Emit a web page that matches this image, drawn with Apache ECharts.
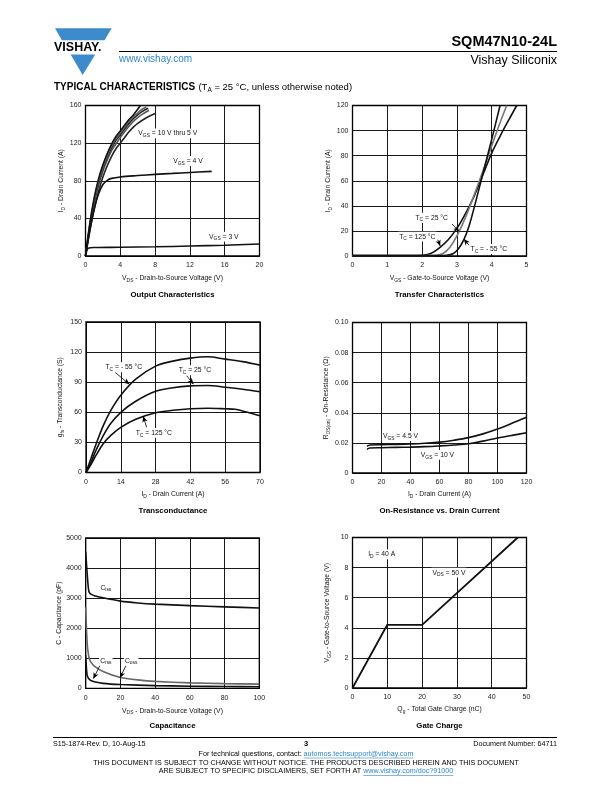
<!DOCTYPE html>
<html><head><meta charset="utf-8">
<script src="https://cdn.jsdelivr.net/npm/echarts@6/dist/echarts.min.js"></script>
<style>html,body{margin:0;padding:0;background:#fff}#c{width:612px;height:792px}</style>
</head><body><div id="c"></div>
<script>
// ---------- DATA ----------
// Output characteristics: [VDS (V), ID (A)]
const outV10 = [[0,0],[0.5,35],[1,62],[1.5,82],[2,97],[2.5,109],[3,119],[3.5,127],[4,133],[4.5,139],[5,145],[5.5,150],[6,156],[6.3,160]];
const outV8  = [[0,0],[0.5,33],[1,60],[1.5,80],[2,95],[2.5,107],[3,117],[3.5,125],[4,131],[4.5,137],[5,143],[5.5,148],[6,152],[6.5,156],[7,158.5]];
const outV7  = [[0,0],[0.5,32],[1,58],[1.5,78],[2,93],[2.5,105],[3,115],[3.5,123],[4,129],[4.5,135],[5,141],[5.5,146],[6,150],[6.5,153.5],[7.2,157]];
const outV6  = [[0,0],[0.5,30],[1,55],[1.5,75],[2,90],[2.5,102],[3,112],[3.5,119],[4,126],[4.5,132],[5,138],[5.5,143],[6,147],[6.5,150.5],[7.3,155]];
const outV5  = [[0,0],[0.5,27],[1,50],[1.5,69],[2,84],[2.5,96],[3,106],[3.5,114],[4,120],[4.5,126],[5,132],[5.5,137],[6,141],[7,147],[8,151.5]];
const outV4  = [[0,0],[0.5,27],[1,50],[1.5,66],[2,76],[2.5,80.5],[3,82.5],[4,84],[6,85.5],[8,86.8],[10,87.8],[12,88.8],[14.5,90]];
const outV3  = [[0,0],[0.1,4],[0.2,7],[0.4,8.5],[1,9],[4,9.3],[8,9.8],[12,10.6],[16,11.5],[20,12.7]];
// Transfer characteristics: [VGS (V), ID (A)]
const trT125 = [[0,0.4],[1,0.4],[1.8,0.4],[2,0.6],[2.25,2],[2.5,6.5],[2.75,13],[3,22],[3.25,34],[3.5,48],[3.75,65],[4,82],[4.25,96],[4.5,109],[4.72,120]];
const trT25  = [[0,0.4],[1,0.4],[2.2,0.4],[2.4,0.6],[2.6,2],[2.8,7],[3,16],[3.25,31],[3.5,49],[3.75,68],[4,88],[4.25,107],[4.43,120]];
const trTm55 = [[0,0.4],[1,0.4],[2.5,0.4],[2.7,0.6],[2.9,2],[3.05,6],[3.2,13],[3.35,24],[3.5,39],[3.75,66],[4,93],[4.24,120]];
// Transconductance: [ID (A), gfs (S)]
const gfsTm55 = [[0,0],[2,14],[4,28],[7,47],[10,62],[14,77],[20,93],[28,106],[35,111],[42,114],[49,115.3],[56,113],[63,110.5],[70,107]];
const gfsT25  = [[0,0],[2,10],[4,22],[7,37],[10,49],[14,60],[20,71],[28,81],[35,84.5],[42,86.3],[49,86.7],[56,85],[63,83],[70,80.5]];
const gfsT125 = [[0,0],[2,8],[4,17],[7,29],[10,37],[14,45],[20,53],[28,59.5],[35,62],[42,63.5],[49,64],[56,63.5],[60,63],[65,60],[70,56.5]];
// On-resistance: [ID (A), RDS(on) (ohm)]
const rdsV45 = [[10,0.0178],[12,0.0186],[20,0.0188],[30,0.019],[40,0.0193],[50,0.0198],[60,0.0205],[70,0.0218],[80,0.0235],[90,0.026],[100,0.0292],[110,0.033],[120,0.037]];
const rdsV10 = [[10,0.0158],[12,0.0166],[20,0.0168],[30,0.017],[40,0.0172],[50,0.0175],[60,0.018],[70,0.0186],[80,0.0194],[90,0.0212],[100,0.0232],[110,0.025],[120,0.0267]];
// Capacitance: [VDS (V), C (pF)]
const capCiss = [[0,4550],[0.5,4100],[1,3700],[1.5,3350],[2,3200],[3,3130],[5,3080],[10,3010],[20,2900],[30,2840],[40,2800],[60,2750],[80,2710],[100,2670]];
const capCoss = [[0,2700],[0.5,1900],[1,1400],[1.5,1150],[2,1000],[3,870],[5,740],[10,560],[20,360],[30,280],[40,230],[60,180],[80,155],[100,140]];
const capCrss = [[0,1100],[0.5,600],[1,400],[2,300],[3,260],[5,220],[10,165],[20,125],[40,90],[60,70],[80,60],[100,50]];
// Gate charge: [Qg (nC), VGS (V)]
const gateQ = [[0,0],[10,4.2],[20,4.2],[47.5,10]];

// Axis ranges: [min, max, interval]
const axOutX = [0,20,4],   axOutY = [0,160,40];
const axTrX  = [0,5,1],    axTrY  = [0,120,20];
const axGfsX = [0,70,14],  axGfsY = [0,150,30];
const axRdsX = [0,120,20], axRdsY = [0,0.1,0.02];
const axCapX = [0,100,20], axCapY = [0,5000,1000];
const axGqX  = [0,50,10],  axGqY  = [0,10,2];

// ---------- STYLE / LAYOUT ----------
const F = '"Liberation Sans", Arial, Helvetica, sans-serif';
function rich(fs){
  return {
    n:{fontSize:fs,fontFamily:F,color:'#111',lineHeight:fs+3},
    s:{fontSize:fs*0.72,fontFamily:F,color:'#111',lineHeight:fs*0.6,verticalAlign:'bottom'}
  };
}
function sub(a,s,b){ return '{n|'+a+'}{s|'+s+'}{n|'+b+'}'; }

const grids = [
  {left:85.5, top:105.5, width:174, height:150.5},
  {left:352.5,top:105.5, width:174, height:150.5},
  {left:86,   top:322,   width:174, height:150.5},
  {left:352.5,top:322.5, width:174, height:150.5},
  {left:85.7, top:538,   width:173.6,height:150.3},
  {left:352.5,top:537.5, width:174, height:150.5}
].map(g=>Object.assign({show:true,borderColor:'#000',borderWidth:1.3,backgroundColor:'transparent'},g));

function axis(gi, r, name, gap, fmt, isY){
  return {
    gridIndex:gi, type:'value', min:r[0], max:r[1], interval:r[2],
    name:name, nameLocation:'middle', nameGap:gap,
    nameTextStyle:{rich:rich(6.8),fontSize:6.8,fontFamily:F,color:'#111'},
    axisLine:{show:false}, axisTick:{show:false},
    axisLabel:{fontSize:7,fontFamily:F,color:'#222',margin:isY?4:6,formatter:fmt||(v=>String(Math.round(v*1000)/1000))},
    splitLine:{show:true,lineStyle:{color:'#000',width:0.9}}
  };
}
const xAxes = [
  axis(0,axOutX,sub('V','DS',' - Drain-to-Source Voltage (V)'),17),
  axis(1,axTrX, sub('V','GS',' - Gate-to-Source Voltage (V)'),17),
  axis(2,axGfsX,sub('I','D',' - Drain Current (A)'),16.5),
  axis(3,axRdsX,sub('I','D',' - Drain Current (A)'),16),
  axis(4,axCapX,sub('V','DS',' - Drain-to-Source Voltage (V)'),17.5),
  axis(5,axGqX, sub('Q','g',' - Total Gate Charge (nC)'),16)
];
const yAxes = [
  axis(0,axOutY,sub('I','D',' - Drain Current (A)'),18.5,null,true),
  axis(1,axTrY, sub('I','D',' - Drain Current (A)'),19.5,null,true),
  axis(2,axGfsY,sub('g','fs',' - Transconductance (S)'),20.5,null,true),
  axis(3,axRdsY,sub('R','DS(on)',' - On-Resistance (Ω)'),21.5,v=>v===0?'0':v.toFixed(2),true),
  axis(4,axCapY,'{n|C - Capacitance (pF)}',20.5,null,true),
  axis(5,axGqY, sub('V','GS',' - Gate-to-Source Voltage (V)'),20.5,null,true)
];

function line(gi, data, color, w, smooth){
  return {type:'line', xAxisIndex:gi, yAxisIndex:gi, data:data, showSymbol:false, symbol:'none',
    smooth: smooth===undefined?0.35:smooth, silent:true,
    lineStyle:{color:color,width:w||1.6}, z:3};
}
// annotation labels (data coords) and arrows
function ann(gi, labels, arrows){
  return {type:'scatter', xAxisIndex:gi, yAxisIndex:gi, symbol:'circle', symbolSize:0, silent:true, z:5,
    itemStyle:{color:'rgba(0,0,0,0)'},
    data: labels.map(a=>({value:[a[0],a[1]], label:{show:true,position:'inside',formatter:a[2],
      rich:rich(6.8), backgroundColor:'#fff', padding:[0,1], opacity:1}})),
    markLine: arrows && arrows.length ? {silent:true, symbol:['none','arrow'], symbolSize:[4,6],
      label:{show:false}, lineStyle:{color:'#000',width:0.8,type:'solid'},
      data: arrows.map(a=>[{coord:[a[0],a[1]]},{coord:[a[2],a[3]]}]), animation:false} : undefined
  };
}

const series = [
  line(0,outV5,'#222'), line(0,outV6,'#555'), line(0,outV7,'#222'), line(0,outV8,'#666'), line(0,outV10,'#111'),
  line(0,outV4,'#111'), line(0,outV3,'#111'),
  ann(0,[[9.46,130.4,sub('V','GS',' = 10 V thru 5 V')],[11.78,101,sub('V','GS',' = 4 V')],[15.9,20.5,sub('V','GS',' = 3 V')]]),

  line(1,trT125,'#111'), line(1,trT25,'#777'), line(1,trTm55,'#111'),
  ann(1,[[2.276,30.5,sub('T','C',' = 25 °C')],[1.862,15.4,sub('T','C',' = 125 °C')],[3.917,5.6,sub('T','C',' = - 55 °C')]],
      [[2.86,25.5,3.07,19.5],[2.45,13,2.52,8],[3.35,8.5,3.2,13.5]]),

  line(2,gfsTm55,'#111'), line(2,gfsT25,'#111'), line(2,gfsT125,'#111'),
  ann(2,[[15.2,104.9,sub('T','C',' = - 55 °C')],[43.8,101.9,sub('T','C',' = 25 °C')],[27.3,39.4,sub('T','C',' = 125 °C')]],
      [[11.7,99.9,17.4,88],[40.5,96.5,43.2,88],[24.4,45,23,56]]),

  line(3,rdsV45,'#111'), line(3,rdsV10,'#111'),
  ann(3,[[33.1,0.0246,sub('V','GS',' = 4.5 V')],[58.6,0.0120,sub('V','GS',' = 10 V')]]),

  line(4,capCiss,'#111',1.6,0.2), line(4,capCoss,'#666',1.6,0.2), line(4,capCrss,'#111',1.6,0.2),
  ann(4,[[11.6,3347,sub('C','iss','')],[11.6,918,sub('C','rss','')],[26.2,918,sub('C','oss','')]],
      [[8.2,760,4.4,320],[23.2,760,19.8,350]]),

  line(5,gateQ,'#111',1.8,false),
  ann(5,[[8.4,8.88,sub('I','D',' = 40 A')],[27.7,7.66,sub('V','DS',' = 50 V')]])
];

// ---------- PAGE TEXT ----------
function measure(t, font){ const c=document.createElement('canvas').getContext('2d'); c.font=font; return c.measureText(t).width; }
const chartTitles = [
  ['Output Characteristics',172.5,295],['Transfer Characteristics',439.5,295],
  ['Transconductance',173,510.5],['On-Resistance vs. Drain Current',439.5,510.5],
  ['Capacitance',172.5,726],['Gate Charge',439.5,726]
];
const blue = '#2f86cc';
const graphic = [];
// logo
graphic.push({type:'polygon',shape:{points:[[55,28.3],[111.7,28.3],[104.5,40.2],[61.9,40.2]]},style:{fill:'#3d8bcb'}});
graphic.push({type:'polygon',shape:{points:[[70.6,54.5],[95.2,54.5],[82.7,75]]},style:{fill:'#3d8bcb'}});
graphic.push({type:'text',x:54,y:47.6,style:{text:'VISHAY.',font:'bold 12.5px '+F,fill:'#000',textVerticalAlign:'middle'}});
graphic.push({type:'text',x:119,y:59,style:{text:'www.vishay.com',font:'10px '+F,fill:blue,textVerticalAlign:'middle'}});
graphic.push({type:'line',shape:{x1:119,y1:51.5,x2:557,y2:51.5},style:{stroke:'#000',lineWidth:1.2}});
graphic.push({type:'text',x:557,y:42,style:{text:'SQM47N10-24L',font:'bold 14.5px '+F,fill:'#000',textAlign:'right',textVerticalAlign:'middle'}});
graphic.push({type:'text',x:557,y:61,style:{text:'Vishay Siliconix',font:'12.5px '+F,fill:'#000',textAlign:'right',textVerticalAlign:'middle'}});
graphic.push({type:'text',x:54,y:87.5,style:{
  text:'{b|TYPICAL CHARACTERISTICS} {n|(T}{s|A}{n| = 25 °C, unless otherwise noted)}',
  rich:{b:{font:'bold 10px '+F,fill:'#000',lineHeight:13},n:{font:'9.5px '+F,fill:'#000',lineHeight:13},
        s:{font:'6.5px '+F,fill:'#000',lineHeight:6,verticalAlign:'bottom'}},
  textVerticalAlign:'middle'}});
chartTitles.forEach(t=>graphic.push({type:'text',x:t[1],y:t[2],style:{text:t[0],font:'bold 7.8px '+F,fill:'#000',textAlign:'center',textVerticalAlign:'middle'}}));
// footer
const ff = '7.2px '+F;
graphic.push({type:'line',shape:{x1:53,y1:737.5,x2:557,y2:737.5},style:{stroke:'#000',lineWidth:1}});
graphic.push({type:'text',x:53,y:744,style:{text:'S15-1874-Rev. D, 10-Aug-15',font:ff,fill:'#000',textVerticalAlign:'middle'}});
graphic.push({type:'text',x:306,y:744,style:{text:'3',font:'bold 7.5px '+F,fill:'#000',textAlign:'center',textVerticalAlign:'middle'}});
graphic.push({type:'text',x:557,y:744,style:{text:'Document Number: 64711',font:ff,fill:'#000',textAlign:'right',textVerticalAlign:'middle'}});
function linkLine(pre, link, y){
  const w1=measure(pre,ff), w2=measure(link,ff), x0=306-(w1+w2)/2;
  graphic.push({type:'text',x:x0,y:y,style:{text:pre,font:ff,fill:'#000',textVerticalAlign:'middle'}});
  graphic.push({type:'text',x:x0+w1,y:y,style:{text:link,font:ff,fill:blue,textVerticalAlign:'middle'}});
  graphic.push({type:'line',shape:{x1:x0+w1,y1:y+4,x2:x0+w1+w2,y2:y+4},style:{stroke:blue,lineWidth:0.6}});
}
linkLine('For technical questions, contact: ','automos.techsupport@vishay.com',754);
graphic.push({type:'text',x:306,y:763.5,style:{text:'THIS DOCUMENT IS SUBJECT TO CHANGE WITHOUT NOTICE. THE PRODUCTS DESCRIBED HEREIN AND THIS DOCUMENT',font:ff,fill:'#000',textAlign:'center',textVerticalAlign:'middle'}});
linkLine('ARE SUBJECT TO SPECIFIC DISCLAIMERS, SET FORTH AT ','www.vishay.com/doc?91000',771.5);

const chart = echarts.init(document.getElementById('c'), null, {renderer:'canvas'});
chart.setOption({
  animation:false, backgroundColor:'#fff', textStyle:{fontFamily:F},
  grid:grids, xAxis:xAxes, yAxis:yAxes, series:series, graphic:graphic
});
</script></body></html>
